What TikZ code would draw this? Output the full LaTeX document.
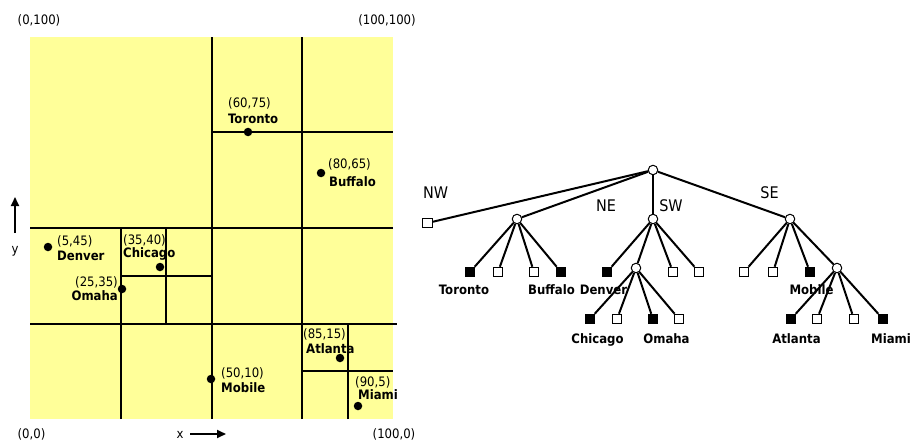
\documentclass[tikz,border=0pt]{standalone}
\usepackage{fontspec}
\setmainfont{DejaVu Sans Condensed}
\usetikzlibrary{arrows.meta}
\definecolor{mapyellow}{HTML}{FFFF99}
\begin{document}
\begin{tikzpicture}[x=1pt,y=-1pt,
  wall/.style={line width=2pt},
  city/.style={circle,fill=black,inner sep=0pt,minimum size=8.5pt},
  coordtxt/.style={inner sep=0pt,font=\fontsize{13}{15}\selectfont},
  nametxt/.style={inner sep=0pt,font=\fontsize{13}{15}\selectfont\bfseries},
  inner/.style={circle,draw,fill=white,line width=1pt,inner sep=0pt,minimum size=9.5pt},
  emptyleaf/.style={rectangle,draw,fill=white,line width=1pt,inner sep=0pt,minimum size=9.5pt},
  fullleaf/.style={rectangle,draw,fill=black,line width=1pt,inner sep=0pt,minimum size=9.5pt},
  branch/.style={line width=2pt},
  quadtxt/.style={inner sep=0pt,font=\fontsize{16}{18}\selectfont},
  axis/.style={line width=2pt,-{Triangle[length=9pt,width=8pt]}},
]
\useasboundingbox (0,0) rectangle (914,444);

% ---- the region, in data units (0..100 on both axes) ----
\begin{scope}[shift={(30,419)},x=3.63pt,y=3.82pt]
  \fill[mapyellow] (0,0) rectangle (100,100);
  \draw[wall] (50,0) -- (50,100);
  \draw[wall] (75,0) -- (75,100);
  \draw[wall] (0,50) -- (100,50);
  \draw[wall] (0,25) -- (101,25);
  \draw[wall] (50,75) -- (100,75);
  \draw[wall] (25,0) -- (25,50);
  \draw[wall] (37.5,25) -- (37.5,50);
  \draw[wall] (25,37.5) -- (50,37.5);
  \draw[wall] (87.5,0) -- (87.5,25);
  \draw[wall] (75,12.5) -- (100,12.5);
\end{scope}

% corner coordinates
\node[coordtxt,anchor=base] (c0100) at (39,25) {(0,100)};
\node[coordtxt,anchor=base] (c100100) at (387,25) {(100,100)};
\node[coordtxt,anchor=base] (c00) at (31.5,438) {(0,0)};
\node[coordtxt,anchor=base] (c1000) at (394,438) {(100,0)};

% axes
\coordinate (xfrom) at (190,434);
\coordinate (xto) at (226,434);
\draw[axis] (xfrom) -- (xto);
\node[coordtxt,anchor=base] (xlab) at (180,438) {x};
\coordinate (yfrom) at (15,233);
\coordinate (yto) at (15,197);
\draw[axis] (yfrom) -- (yto);
\node[coordtxt,anchor=base] (ylab) at (15,253) {y};

% cities
\node[city] (pToronto) at (248,132) {};
\node[city] (pBuffalo) at (321,173) {};
\node[city] (pDenver) at (48,247) {};
\node[city] (pChicago) at (160,267) {};
\node[city] (pOmaha) at (122,289) {};
\node[city] (pMobile) at (211,379) {};
\node[city] (pAtlanta) at (340,358) {};
\node[city] (pMiami) at (358,406) {};

\node[coordtxt,anchor=base west] (tToronto) at (228,108) {(60,75)};
\node[nametxt,anchor=base west] (nToronto) at (228,124) {Toronto};
\node[coordtxt,anchor=base west] (tBuffalo) at (328,168) {(80,65)};
\node[nametxt,anchor=base west] (nBuffalo) at (329,186) {Buffalo};
\node[coordtxt,anchor=base west] (tDenver) at (57,245) {(5,45)};
\node[nametxt,anchor=base west] (nDenver) at (57,260) {Denver};
\node[coordtxt,anchor=base west] (tChicago) at (123,244) {(35,40)};
\node[nametxt,anchor=base west] (nChicago) at (123,257) {Chicago};
\node[coordtxt,anchor=base east] (tOmaha) at (118,286) {(25,35)};
\node[nametxt,anchor=base east] (nOmaha) at (118,300) {Omaha};
\node[coordtxt,anchor=base west] (tMobile) at (221,377) {(50,10)};
\node[nametxt,anchor=base west] (nMobile) at (221,392) {Mobile};
\node[coordtxt,anchor=base west] (tAtlanta) at (303,338) {(85,15)};
\node[nametxt,anchor=base west] (nAtlanta) at (306,353) {Atlanta};
\node[coordtxt,anchor=base west] (tMiami) at (355,386) {(90,5)};
\node[nametxt,anchor=base west] (nMiami) at (358,399) {Miami};

% ---- the quadtree ----
\node[inner] (root) at (653,170) {};
\node[emptyleaf] (nw) at (427.5,223) {};
\node[inner] (ne) at (517,219) {};
\node[inner] (sw) at (653,219) {};
\node[inner] (se) at (790,219) {};

\node[fullleaf]  (ne1) at (470,272) {};
\node[emptyleaf] (ne2) at (498,272) {};
\node[emptyleaf] (ne3) at (534,272) {};
\node[fullleaf]  (ne4) at (561,272) {};

\node[fullleaf]  (sw1) at (607,272) {};
\node[inner]     (sw2) at (636,268) {};
\node[emptyleaf] (sw3) at (673,272) {};
\node[emptyleaf] (sw4) at (699,272) {};

\node[emptyleaf] (se1) at (744,272) {};
\node[emptyleaf] (se2) at (773,272) {};
\node[fullleaf]  (se3) at (810,272) {};
\node[inner]     (se4) at (837,268) {};

\node[fullleaf]  (sw21) at (590,319) {};
\node[emptyleaf] (sw22) at (617,319) {};
\node[fullleaf]  (sw23) at (653,319) {};
\node[emptyleaf] (sw24) at (679,319) {};

\node[fullleaf]  (se41) at (791,319) {};
\node[emptyleaf] (se42) at (817,319) {};
\node[emptyleaf] (se43) at (854,319) {};
\node[fullleaf]  (se44) at (883,319) {};

\foreach \a/\b in {root/nw,root/ne,root/sw,root/se,
  ne/ne1,ne/ne2,ne/ne3,ne/ne4,
  sw/sw1,sw/sw2,sw/sw3,sw/sw4,
  se/se1,se/se2,se/se3,se/se4,
  sw2/sw21,sw2/sw22,sw2/sw23,sw2/sw24,
  se4/se41,se4/se42,se4/se43,se4/se44}
  \draw[branch] (\a) -- (\b);

\node[quadtxt,anchor=base] (lNW) at (435.5,198) {NW};
\node[quadtxt,anchor=base] (lNE) at (606,211) {NE};
\node[quadtxt,anchor=base] (lSW) at (671,211) {SW};
\node[quadtxt,anchor=base] (lSE) at (769.5,198) {SE};

\node[nametxt,anchor=base] (lToronto) at (464,294) {Toronto};
\node[nametxt,anchor=base] (lBuffalo) at (551.5,294) {Buffalo};
\node[nametxt,anchor=base] (lDenver) at (603.5,294) {Denver};
\node[nametxt,anchor=base] (lMobile) at (811.5,294) {Mobile};
\node[nametxt,anchor=base] (lChicago) at (597.5,343) {Chicago};
\node[nametxt,anchor=base] (lOmaha) at (666.5,343) {Omaha};
\node[nametxt,anchor=base] (lAtlanta) at (796.5,343) {Atlanta};
\node[nametxt,anchor=base] (lMiami) at (891,343) {Miami};
\end{tikzpicture}
\end{document}
